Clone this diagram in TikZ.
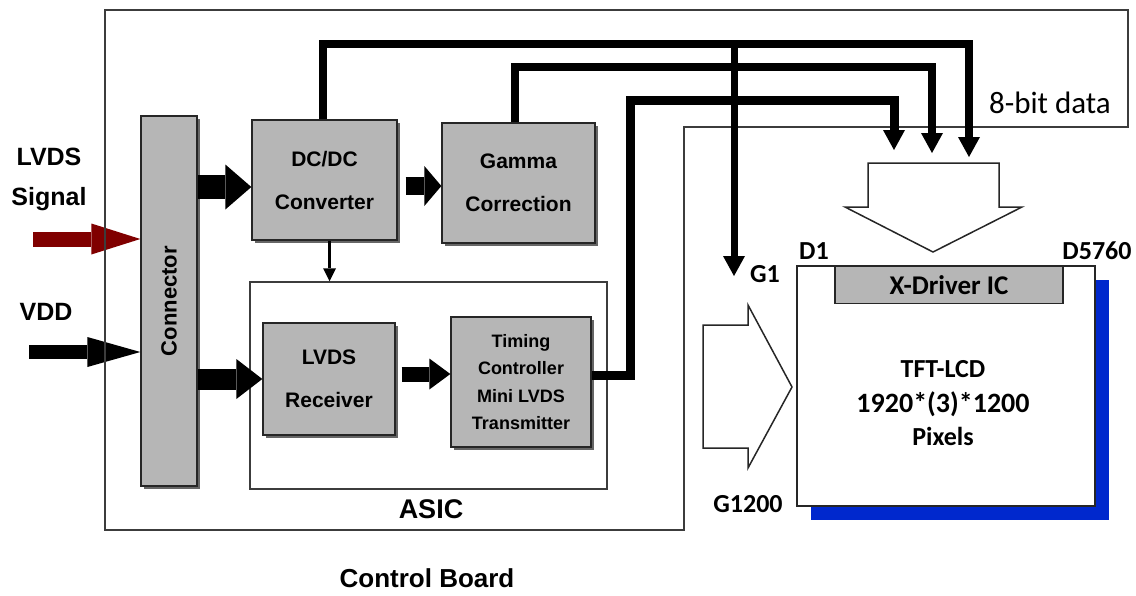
\documentclass[tikz,border=0pt]{standalone}
\usepackage{fontspec}
\setmainfont{Liberation Sans}
\newfontfamily\calfont{Carlito}
\usetikzlibrary{arrows.meta,shadows,calc}
\definecolor{boxgray}{RGB}{182,182,182}
\definecolor{sigred}{RGB}{128,0,0}
\definecolor{lcdblue}{RGB}{0,40,205}
\definecolor{edgegray}{RGB}{60,60,60}
\begin{document}
\begin{tikzpicture}[x=1pt,y=1pt,
  gbox/.style={draw=black!85, line width=1.3pt, fill=boxgray, inner sep=0pt, align=center,
    general shadow={fill=black!60, shadow xshift=3pt, shadow yshift=-3pt}},
  wbox/.style={draw=edgegray, line width=1.5pt, fill=white, inner sep=0pt},
  bus/.style={line width=8pt, draw=black, line join=miter,
    -{Triangle[width=22pt,length=20pt,line width=0pt]}},
  fat/.style args={#1/#2/#3}{line width=#1, line cap=butt,
    -{Triangle[width=#2,length=#3,line width=0pt]}},
  boxfont/.style={font=\bfseries\fontsize{21}{43}\selectfont},
  smallfont/.style={font=\bfseries\fontsize{18}{27.5}\selectfont},
  lbl/.style={font=\bfseries\fontsize{25}{30}\selectfont, inner sep=0pt, anchor=base},
  clbl/.style={font=\calfont\bfseries\fontsize{26}{30}\selectfont, inner sep=0pt, anchor=base},
  outl/.style={draw=black!85, line width=1.5pt, fill=white, line join=miter},
]
\useasboundingbox (0,0) rectangle (1136,-595);

% ---- connector and input arrows (drawn before board outline)
\node[gbox, minimum width=56pt, minimum height=370pt] (conn) at (169,-301) {};
\node[rotate=90, inner sep=0pt, font=\bfseries\fontsize{22}{26}\selectfont] (conntxt) at (conn.center) {Connector};

\coordinate (redstart) at (33,-239);
\coordinate (vddstart) at (29,-352);
\draw[fat=15pt/31pt/49pt, draw=sigred, sigred] (redstart) -- (redstart -| conn.west);
\draw[fat=14pt/30pt/53pt, black] (vddstart) -- (vddstart -| conn.west);

% ---- board outline
\draw[draw=edgegray, line width=1.5pt, line join=miter]
  (105,-10) coordinate (b1) -- (1128,-10) -- (1128,-127) -- (684,-127) -- (684,-530) -- (105,-530) -- cycle;

% ---- boxes
\node[gbox, boxfont, minimum width=145pt, minimum height=120pt] (dcdc) at (324.5,-180) {DC/DC\\Converter};
\node[gbox, boxfont, minimum width=153pt, minimum height=120pt] (gamma) at (518.5,-183) {Gamma\\Correction};
\node[wbox, minimum width=357pt, minimum height=207pt] (asic) at (428.5,-385.5) {};
\node[gbox, boxfont, minimum width=132pt, minimum height=112pt] (rx) at (329,-379) {LVDS\\Receiver};
\node[gbox, smallfont, minimum width=140pt, minimum height=130pt] (tcon) at (521,-382) {Timing\\Controller\\Mini LVDS\\Transmitter};

% ---- block arrows between boxes
\coordinate (y1) at (0,-187);
\coordinate (y2) at (0,-379);
\coordinate (y3) at (0,-186);
\coordinate (y4) at (0,-374);
\coordinate (x5) at (329.5,0);
\draw[fat=24pt/45pt/26pt, black] (conn.east |- y1) -- (dcdc.west |- y1);
\draw[fat=21pt/40pt/26pt, black] (conn.east |- y2) -- (rx.west |- y2);
\draw[fat=18pt/40pt/17pt, black] ($(dcdc.east |- y3)+(8,0)$) -- (gamma.west |- y3);
\draw[fat=15pt/31pt/21pt, black] ($(rx.east |- y4)+(6,0)$) -- (tcon.west |- y4);
\draw[fat=3pt/13pt/13pt, black] (dcdc.south -| x5) -- (asic.north -| x5);

% ---- data buses
\coordinate (a1) at (969,-44);
\coordinate (a2) at (969,-157);
\coordinate (bb1) at (932,-67);
\coordinate (bb2) at (932,-153);
\coordinate (c0) at ($(tcon.east)+(0,7)$);
\coordinate (c1) at (630,-375);
\coordinate (c2) at (630,-100);
\coordinate (c3) at (894,-100);
\coordinate (c4) at (894,-150);
\coordinate (g0) at (734,-44);
\coordinate (g1) at (734,-276);

\draw[bus] ($(dcdc.north)+(-2,0)$) |- (a1) -- (a2);
\draw[bus] ($(gamma.north)+(-4,0)$) |- (bb1) -- (bb2);
\draw[bus, line width=9pt] (c0) -- (c1) -- (c2) -- (c3) -- (c4);
\draw[bus, line width=7pt] (g0) -- (g1);

% ---- LCD panel
\node[draw=black!85, line width=1.5pt, fill=white, minimum width=298pt, minimum height=240pt, inner sep=0pt,
  general shadow={fill=lcdblue, shadow xshift=14pt, shadow yshift=-14pt}] (lcd) at (946,-386) {};
\node[draw=black!85, line width=1.3pt, fill=boxgray, minimum width=228pt, minimum height=37pt, inner sep=0pt,
  anchor=north, font=\calfont\bfseries\fontsize{27}{30}\selectfont] (xdrv) at (949,-266) {X-Driver IC};

% ---- outline block arrows
\draw[outl] (868,-163) coordinate (dn1) -- (999,-163) -- (999,-207) -- (1022,-207) -- (933,-252) -- (845,-207) -- (868,-207) -- cycle;
\draw[outl] (703,-325) coordinate (rt1) -- (748,-325) -- (748,-305) -- (792,-387) -- (748,-468) -- (748,-448) -- (703,-448) -- cycle;

% ---- labels
\node[lbl] (lvdstxt) at (49,-165) {LVDS};
\node[lbl] (sigtxt) at (49,-205) {Signal};
\node[lbl] (vddtxt) at (46,-320) {VDD};
\node[lbl, font=\bfseries\fontsize{27}{30}\selectfont] (asictxt) at (431,-518) {ASIC};
\node[lbl, font=\bfseries\fontsize{26}{30}\selectfont] (cbtxt) at (427,-587) {Control Board};
\node[clbl, font=\calfont\fontsize{31}{34}\selectfont] (bittxt) at (1050,-113) {8-bit data};
\node[clbl] (d1txt) at (814,-259) {D1};
\node[clbl] (d5760txt) at (1097,-259) {D5760};
\node[clbl] (g1txt) at (765,-282) {G1};
\node[clbl] (g1200txt) at (748,-512) {G1200};
\node[clbl, font=\calfont\bfseries\fontsize{26}{30}\selectfont] (lcdt1) at (943,-377) {TFT-LCD};
\node[clbl, font=\calfont\bfseries\fontsize{28}{30}\selectfont] (lcdt2) at (943,-412) {1920*(3)*1200};
\node[clbl, font=\calfont\bfseries\fontsize{26}{30}\selectfont] (lcdt3) at (943,-445) {Pixels};
\end{tikzpicture}
\end{document}
